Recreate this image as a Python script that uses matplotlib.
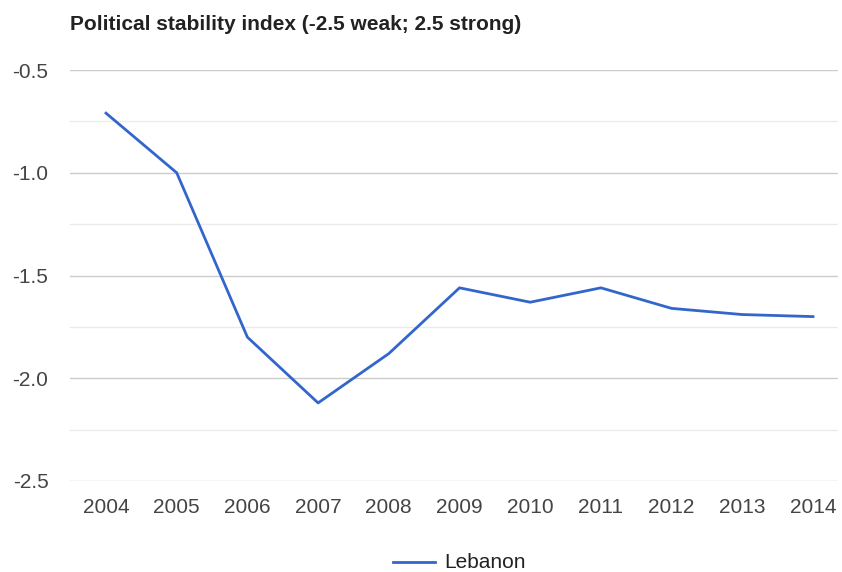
import matplotlib
matplotlib.use("Agg")
import matplotlib.pyplot as plt
from matplotlib.lines import Line2D
import numpy as np

years = [2004, 2005, 2006, 2007, 2008, 2009, 2010, 2011, 2012, 2013, 2014]
lebanon = [-0.71, -1.00, -1.80, -2.12, -1.88, -1.56, -1.63, -1.56, -1.66, -1.69, -1.70]
y_ticks = [-2.5, -2.0, -1.5, -1.0, -0.5]
y_minor = [-2.25, -1.75, -1.25, -0.75]
title = "Political stability index (-2.5 weak; 2.5 strong)"
series_name = "Lebanon"

plt.rcParams['font.family'] = ['Liberation Sans', 'DejaVu Sans']

fig = plt.figure(figsize=(8.42, 5.72), dpi=100)
W, H = 842, 572
ax = fig.add_axes([70 / W, 1 - 481 / H, 768 / W, 411 / H])

x = np.arange(len(years))
ax.plot(x, lebanon, color='#3366CC', lw=2.0, clip_on=False, zorder=3)

ax.set_ylim(-2.5, -0.5)
ax.set_xlim(-36 / 70.7, 10 + 25 / 70.7)

for v in y_ticks:
    ax.axhline(v, color='#cccccc', lw=1.0, zorder=1)
for v in y_minor:
    ax.axhline(v, color='#ebebeb', lw=1.0, zorder=1)

fs = 15
ax.set_yticks(y_ticks)
ax.set_yticklabels([f"{v:.1f}" for v in y_ticks])
ax.set_xticks(x)
ax.set_xticklabels([str(y) for y in years])
ax.tick_params(axis='both', length=0, labelsize=fs, labelcolor='#444444')
ax.tick_params(axis='y', pad=15.5)
ax.tick_params(axis='x', pad=12)
for s in ax.spines.values():
    s.set_visible(False)

fig.text(70 / W, 1 - 24 / H, title, fontsize=fs, fontweight='bold',
         color='#222222', ha='left', va='center')

# legend
ly = 1 - 562 / H
fig.add_artist(Line2D([393 / W, 435 / W], [ly, ly], color='#3366CC', lw=2.0,
                      transform=fig.transFigure))
fig.text(444 / W, ly, series_name, fontsize=fs, color='#222222',
         ha='left', va='center')

fig.savefig("out.png", dpi=100)
